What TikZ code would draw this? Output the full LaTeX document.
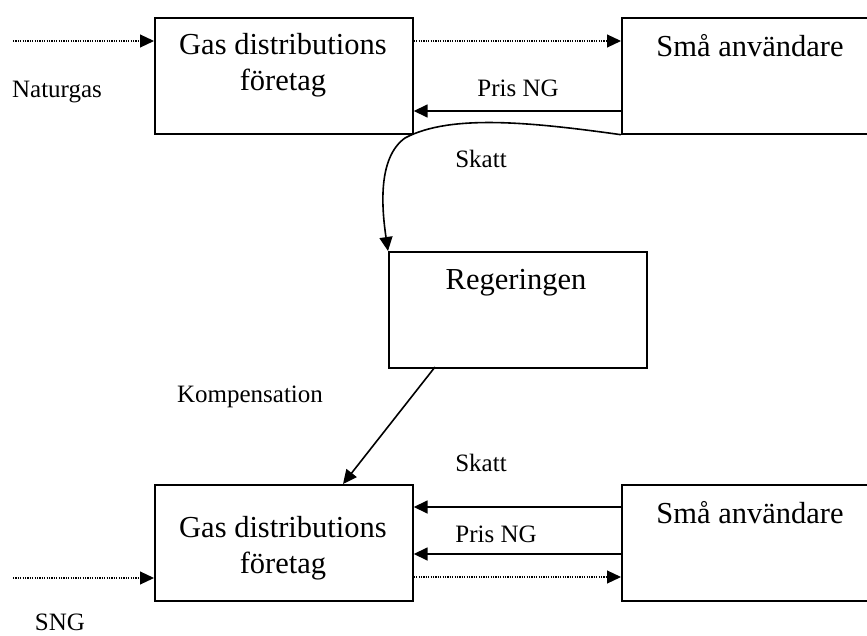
\documentclass[tikz,border=0pt]{standalone}
\usepackage{fontspec}
\setmainfont{Liberation Serif}
\usetikzlibrary{arrows.meta}

\tikzset{
  box/.style={draw, line width=1.7pt, minimum width=258pt, minimum height=116pt,
              inner sep=0pt, anchor=north west},
  big/.style={font=\fontsize{30.5}{36}\selectfont, anchor=base, inner sep=0pt},
  small/.style={font=\fontsize{25}{30}\selectfont, anchor=base, inner sep=0pt},
  flow/.style={line width=1.6pt, -{Triangle[length=14pt,width=13pt]}},
  gasflow/.style={line width=1.1pt, dash pattern=on 1.2pt off 1.2pt,
                  -{Triangle[length=14pt,width=13pt]}},
}

\begin{document}
\begin{tikzpicture}[x=1pt,y=-1pt]
\useasboundingbox (0,0) rectangle (867,636);
\clip (0,0) rectangle (867,636);

% boxes
\node[box] (gd1) at (154,17)  {};
\node[box] (su1) at (621,17)  {};
\node[box] (reg) at (388,251) {};
\node[box] (gd2) at (154,484) {};
\node[box] (su2) at (621,484) {};

% box texts
\node[big] (gd1a) at (283,55)  {Gas distributions};
\node[big] (gd1b) at (283,91)  {företag};
\node[big] (su1a) at (750,57)  {Små användare};
\node[big] (rega) at (516,290) {Regeringen};
\node[big] (gd2a) at (283,537) {Gas distributions};
\node[big] (gd2b) at (283,573) {företag};
\node[big] (su2a) at (750,523) {Små användare};

% labels
\node[small] (lng)   at (57,98)   {Naturgas};
\node[small] (lpr1)  at (518,97)  {Pris NG};
\node[small] (lsk1)  at (481,168) {Skatt};
\node[small] (lkomp) at (250,402) {Kompensation};
\node[small] (lsk2)  at (481,471) {Skatt};
\node[small] (lpr2)  at (496,542) {Pris NG};
\node[small] (lsng)  at (60,630)  {SNG};

% free ends of the incoming gas lines
\coordinate (ngin)  at (13,41);
\coordinate (sngin) at (13,578);

% upper chain
\draw[gasflow] (ngin) -- (gd1.west |- ngin);
\draw[gasflow] (gd1.east |- ngin) -- (su1.west |- ngin);
\draw[flow] (su1.west |- 0,111) -- (gd1.east |- 0,111);
\draw[flow] (su1.south west)
  .. controls (530,122) and (450,114) .. (405,138)
  .. controls (377,158) and (382,210) .. (reg.north west);

% compensation
\draw[flow] (435,367) -- (343,484);

% lower chain
\draw[flow] (su2.west |- 0,507) -- (gd2.east |- 0,507);
\draw[flow] (su2.west |- 0,554) -- (gd2.east |- 0,554);
\draw[gasflow] (sngin) -- (gd2.west |- sngin);
\draw[gasflow] (gd2.east |- 0,577) -- (su2.west |- 0,577);
\end{tikzpicture}
\end{document}
